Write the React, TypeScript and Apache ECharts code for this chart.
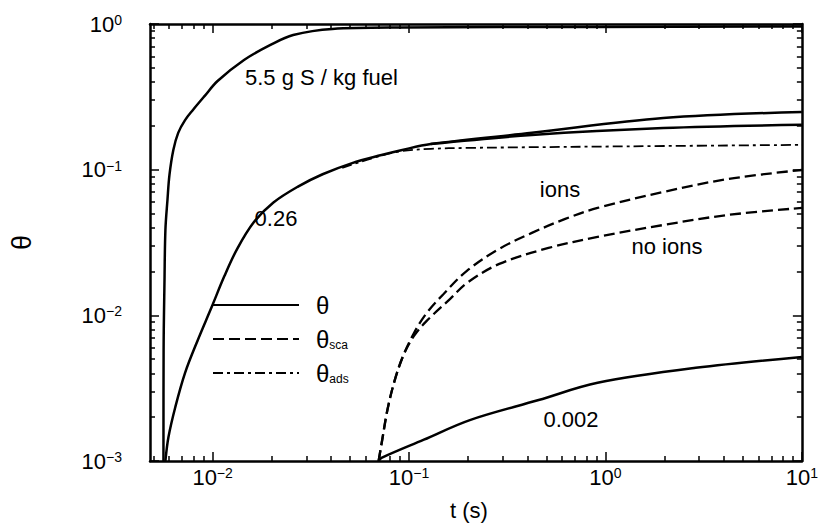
import React, { useEffect, useRef } from 'react';
import * as echarts from 'echarts';

// Axis tick values
const xMajor = [0.01, 0.1, 1, 10];
const yMajor = [0.001, 0.01, 0.1, 1];
const xMinor = [0.005, 0.006, 0.007, 0.008, 0.009, 0.02, 0.03, 0.04, 0.05, 0.06, 0.07, 0.08, 0.09, 0.2, 0.3, 0.4, 0.5, 0.6, 0.7, 0.8, 0.9, 2, 3, 4, 5, 6, 7, 8, 9];
const yMinor = [0.002, 0.003, 0.004, 0.005, 0.006, 0.007, 0.008, 0.009, 0.02, 0.03, 0.04, 0.05, 0.06, 0.07, 0.08, 0.09, 0.2, 0.3, 0.4, 0.5, 0.6, 0.7, 0.8, 0.9];

// 5.5 g S / kg fuel : theta
const tHigh = [0.00562, 0.00563, 0.00569, 0.00575, 0.00589, 0.00603, 0.00631, 0.00668, 0.00724, 0.00794, 0.00912, 0.0106, 0.01445, 0.0197, 0.0257, 0.0407, 0.0912, 0.912, 10];
const thetaHigh = [0.001, 0.0058, 0.0175, 0.0385, 0.0619, 0.092, 0.1365, 0.179, 0.219, 0.257, 0.321, 0.406, 0.566, 0.718, 0.84, 0.925, 0.946, 0.954, 0.962];

// 0.26 : theta (with ions)
const tMidIons = [0.00575, 0.00596, 0.00646, 0.00724, 0.00841, 0.00989, 0.01148, 0.01334, 0.0162, 0.0204, 0.0272, 0.0363, 0.0513, 0.0724, 0.0912, 0.129, 0.422, 1.97, 10];
const thetaMidIons = [0.001, 0.00146, 0.00235, 0.00403, 0.00678, 0.0114, 0.0186, 0.0286, 0.0435, 0.0595, 0.0765, 0.093, 0.111, 0.126, 0.136, 0.15, 0.179, 0.226, 0.249];

// 0.26 : theta (no ions), after the split
const tMidNoIons = [0.129, 0.422, 1.97, 10];
const thetaMidNoIons = [0.15, 0.173, 0.193, 0.203];

// 0.26 : theta_ads
const tAds = [0.0457, 0.0724, 0.0912, 0.129, 0.197, 0.912, 10];
const thetaAds = [0.103, 0.125, 0.134, 0.139, 0.141, 0.144, 0.148];

// 0.26 : theta_sca (ions)
const tScaIons = [0.07, 0.0733, 0.0776, 0.0841, 0.0933, 0.106, 0.123, 0.15, 0.197, 0.288, 0.422, 0.624, 0.912, 1.97, 4.22, 10];
const thetaScaIons = [0.001, 0.00144, 0.00224, 0.00349, 0.00526, 0.00757, 0.01038, 0.01402, 0.0202, 0.0286, 0.0368, 0.0459, 0.0546, 0.0703, 0.0863, 0.0995];

// 0.26 : theta_sca (no ions)
const tScaNoIons = [0.07, 0.0733, 0.0776, 0.0841, 0.0933, 0.106, 0.123, 0.162, 0.197, 0.288, 0.513, 0.912, 1.97, 4.22, 10];
const thetaScaNoIons = [0.001, 0.00144, 0.00224, 0.00349, 0.00526, 0.00722, 0.00916, 0.01297, 0.01668, 0.02254, 0.029, 0.0345, 0.0417, 0.0489, 0.0546];

// 0.002 : theta
const tLow = [0.07, 0.0724, 0.119, 0.204, 0.457, 0.912, 2.88, 10];
const thetaLow = [0.001, 0.00105, 0.0014, 0.00191, 0.00262, 0.00344, 0.00436, 0.00518];

const FONT = '"Liberation Sans", Arial, Helvetica, sans-serif';

const zip = (a: number[], b: number[]) => a.map((v, i) => [v, b[i]]);

const powFmt = (v: number) => {
  const e = Math.round(Math.log10(v));
  const s = e < 0 ? '\u2212' + -e : String(e);
  return `{b|10}{s|${s}}`;
};

const powRich = {
  b: { fontSize: 22, fontFamily: FONT, color: '#000', lineHeight: 22, verticalAlign: 'bottom' },
  s: { fontSize: 14, fontFamily: FONT, color: '#000', lineHeight: 14, verticalAlign: 'top', padding: [0, 0, 14, 0] },
};

const X_MIN = 0.0048;
const X_MAX = 10;
const Y_MIN = 0.001;
const Y_MAX = 1;

function axisX(position: string, ticks: number[], len: number, withLine: boolean, withLabels: boolean, name?: string) {
  return {
    type: 'log',
    logBase: 10,
    position,
    min: X_MIN,
    max: X_MAX,
    name: name || '',
    nameLocation: 'middle',
    nameGap: 38,
    nameTextStyle: { fontSize: 22, fontFamily: FONT, color: '#000', padding: [0, 14, 0, 0] },
    axisLine: { show: withLine, onZero: false, lineStyle: { color: '#000', width: 2.5 } },
    axisTick: { show: true, inside: true, length: len, customValues: ticks, lineStyle: { color: '#000', width: 1.5 } },
    axisLabel: withLabels
      ? { show: true, customValues: ticks, formatter: powFmt, rich: powRich, margin: 5 }
      : { show: false },
    splitLine: { show: false },
    minorTick: { show: false },
  };
}

function axisY(position: string, ticks: number[], len: number, withLine: boolean, withLabels: boolean, name?: string) {
  return {
    type: 'log',
    logBase: 10,
    position,
    min: Y_MIN,
    max: Y_MAX,
    name: name || '',
    nameLocation: 'middle',
    nameGap: 115,
    nameTextStyle: { fontSize: 27, fontFamily: FONT, color: '#000' },
    axisLine: { show: withLine, onZero: false, lineStyle: { color: '#000', width: 2.5 } },
    axisTick: { show: true, inside: true, length: len, customValues: ticks, lineStyle: { color: '#000', width: 1.5 } },
    axisLabel: withLabels
      ? { show: true, customValues: ticks, formatter: powFmt, rich: powRich, margin: 28 }
      : { show: false },
    splitLine: { show: false },
    minorTick: { show: false },
  };
}

const lineSeries = (name: string, t: number[], th: number[], type: any, width: number) => ({
  type: 'line',
  name,
  xAxisIndex: 0,
  yAxisIndex: 0,
  data: zip(t, th),
  showSymbol: false,
  symbol: 'none',
  smooth: 0.35,
  lineStyle: { color: '#000', width, type },
  itemStyle: { color: '#000' },
  silent: true,
});

const annotations = [
  { text: '5.5 g S / kg fuel', x: 245, y: 77, align: 'left' },
  { text: '0.26', x: 276, y: 218, align: 'center' },
  { text: 'ions', x: 560, y: 189, align: 'center' },
  { text: 'no ions', x: 667, y: 246, align: 'center' },
  { text: '0.002', x: 571, y: 419, align: 'center' },
];

export default function App() {
  const ref = useRef<HTMLDivElement>(null);
  useEffect(() => {
    if (!ref.current) return;
    const chart = echarts.init(ref.current, undefined, { renderer: 'svg' });
    const dashed = [11, 5];
    const dashDot = [10, 4, 3, 4];
    chart.setOption({
      animation: false,
      backgroundColor: '#fff',
      grid: { left: 145, right: 13, top: 24, bottom: 67, containLabel: false },
      legend: {
        orient: 'vertical',
        left: 207,
        top: 288,
        itemWidth: 86,
        itemHeight: 14,
        itemGap: 10,
        selectedMode: false,
        data: ['θ', 'θsca', 'θads'],
        itemStyle: { opacity: 0, color: 'rgba(0,0,0,0)', borderColor: 'rgba(0,0,0,0)', borderWidth: 0 },
        formatter: (name: string) => (name === 'θ' ? '{t|θ}' : `{t|θ}{s|${name.slice(1)}}`),
        textStyle: {
          padding: [0, 0, 0, 12],
          rich: {
            t: { fontSize: 24, fontFamily: FONT, color: '#000', lineHeight: 24 },
            s: { fontSize: 12, fontFamily: FONT, color: '#000', lineHeight: 12, verticalAlign: 'bottom' },
          },
        },
      },
      xAxis: [
        axisX('bottom', xMajor, 9, true, true, 't (s)'),
        axisX('bottom', xMinor, 5, false, false),
        axisX('top', xMajor, 9, true, false),
        axisX('top', xMinor, 5, false, false),
      ],
      yAxis: [
        axisY('left', yMajor, 9, true, true, 'θ'),
        axisY('left', yMinor, 5, false, false),
        axisY('right', yMajor, 9, true, false),
        axisY('right', yMinor, 5, false, false),
      ],
      series: [
        lineSeries('θads', tAds, thetaAds, dashDot, 1.8),
        lineSeries('θsca', tScaIons, thetaScaIons, dashed, 2.3),
        lineSeries('θsca', tScaNoIons, thetaScaNoIons, dashed, 2.3),
        lineSeries('θ', tHigh, thetaHigh, 'solid', 2.5),
        lineSeries('θ', tMidIons, thetaMidIons, 'solid', 2.5),
        lineSeries('θ', tMidNoIons, thetaMidNoIons, 'solid', 2.5),
        lineSeries('θ', tLow, thetaLow, 'solid', 2.5),
      ],
      graphic: annotations.map((a) => ({
        type: 'text',
        x: a.x,
        y: a.y,
        silent: true,
        style: {
          text: a.text,
          fontSize: 22,
          fontFamily: FONT,
          fill: '#000',
          align: a.align,
          verticalAlign: 'middle',
        },
      })),
    });
    return () => chart.dispose();
  }, []);
  return (
    <div
      ref={ref}
      style={{ position: 'fixed', left: 0, top: 0, width: 821, height: 528, background: '#fff' }}
    />
  );
}
